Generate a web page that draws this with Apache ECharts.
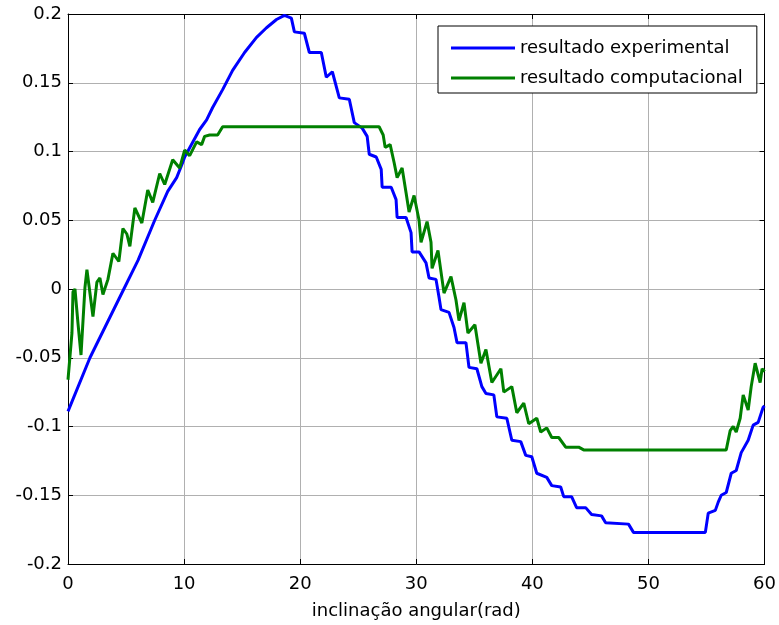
<!DOCTYPE html>
<html>
<head>
<meta charset="utf-8">
<script src="https://cdn.jsdelivr.net/npm/echarts@6/dist/echarts.min.js"></script>
<style>html,body{margin:0;padding:0;background:#fff;}#c{width:779px;height:625px;}</style>
</head>
<body>
<div id="c"></div>
<script>
const seriesNames = ['resultado experimental', 'resultado computacional'];
const xTicks = [0, 10, 20, 30, 40, 50, 60];
const yTickLabels = ['-0.2', '-0.15', '-0.1', '-0.05', '0', '0.05', '0.1', '0.15', '0.2'];

const expX = [0, 1.89, 4.81, 6.04, 7.47, 8.59, 9.36, 9.88, 10.05, 11.34, 11.94, 12.46, 13.32, 14.18, 15.21, 16.24, 17.10, 17.96, 18.64, 19.24,
  19.50, 20.36, 20.79, 21.82, 22.25, 22.77, 23.37, 24.23, 24.66, 25.34, 25.77, 25.95, 26.55, 26.98, 27.06, 27.84, 28.26, 28.35, 29.12, 29.55,
  29.64, 30.24, 30.84, 31.10, 31.70, 31.96, 32.13, 32.82, 33.25, 33.51, 34.28, 34.54, 35.22, 35.65, 36.00, 36.68, 36.94, 37.80, 38.23, 39.00,
  39.43, 39.95, 40.38, 41.24, 41.67, 42.44, 42.70, 43.38, 43.81, 44.59, 45.10, 45.96, 46.31, 48.28, 48.71, 54.90, 55.15, 55.76, 56.01, 56.27,
  56.70, 57.13, 57.56, 57.99, 58.59, 59.02, 59.45, 59.88, 60];
const expY = [-0.089, -0.050, 0, 0.021, 0.050, 0.071, 0.081, 0.092, 0.096, 0.116, 0.123, 0.132, 0.145, 0.159, 0.172, 0.183, 0.190, 0.196, 0.199, 0.197,
  0.187, 0.186, 0.172, 0.172, 0.154, 0.158, 0.139, 0.138, 0.121, 0.117, 0.111, 0.098, 0.096, 0.087, 0.074, 0.074, 0.065, 0.052, 0.052, 0.041,
  0.027, 0.027, 0.019, 0.008, 0.007, -0.006, -0.015, -0.017, -0.028, -0.039, -0.039, -0.057, -0.058, -0.071, -0.076, -0.077, -0.093, -0.094, -0.110, -0.111,
  -0.121, -0.122, -0.134, -0.137, -0.143, -0.144, -0.151, -0.151, -0.159, -0.159, -0.164, -0.165, -0.170, -0.171, -0.177, -0.177, -0.163, -0.161, -0.155, -0.150,
  -0.148, -0.134, -0.132, -0.119, -0.110, -0.099, -0.097, -0.086, -0.085];

const compX = [0, 0.34, 0.43, 0.60, 0.86, 1.12, 1.46, 1.63, 2.15, 2.49, 2.75, 3.01, 3.44, 3.87, 4.38, 4.73, 5.07, 5.33, 5.76, 6.36,
  6.87, 7.30, 7.90, 8.33, 9.02, 9.62, 10.05, 10.48, 11.08, 11.51, 11.77, 12.20, 12.89, 13.32, 13.49,
  26.80, 27.15, 27.32, 27.75, 28.09, 28.35, 28.78, 29.12, 29.38, 29.81, 30.24, 30.41, 30.93, 31.27, 31.36, 31.87, 32.39, 32.99, 33.42, 33.68,
  34.11, 34.45, 35.05, 35.57, 36.00, 36.51, 37.29, 37.54, 38.23, 38.66, 39.26, 39.69, 40.38, 40.72, 41.24, 41.67, 42.27, 42.87, 43.99, 44.42,
  56.70, 57.04, 57.30, 57.56, 57.90, 58.16, 58.59, 58.85, 59.19, 59.62, 59.79, 60];
const compY = [-0.066, -0.032, -0.002, 0.000, -0.025, -0.048, 0.001, 0.014, -0.020, 0.005, 0.008, -0.004, 0.007, 0.026, 0.020, 0.044, 0.040, 0.031, 0.059, 0.048,
  0.072, 0.063, 0.084, 0.076, 0.094, 0.088, 0.101, 0.097, 0.107, 0.105, 0.111, 0.112, 0.112, 0.118, 0.118,
  0.118, 0.112, 0.103, 0.105, 0.092, 0.081, 0.088, 0.070, 0.056, 0.068, 0.050, 0.034, 0.049, 0.034, 0.015, 0.028, -0.003, 0.009, -0.008, -0.023,
  -0.010, -0.032, -0.026, -0.054, -0.044, -0.068, -0.058, -0.075, -0.071, -0.090, -0.083, -0.098, -0.094, -0.104, -0.101, -0.108, -0.108, -0.115, -0.115, -0.117,
  -0.117, -0.103, -0.100, -0.104, -0.094, -0.077, -0.088, -0.071, -0.054, -0.068, -0.058, -0.060];

const FONT = 'DejaVu Sans';
const chart = echarts.init(document.getElementById('c'), null, { renderer: 'canvas' });

const boxAxisCommon = {
  axisLine: { show: true, onZero: false, lineStyle: { color: '#000', width: 1 } },
  axisTick: { show: true, inside: true, length: 5, lineStyle: { color: '#000', width: 1 } }
};

const option = {
  animation: false,
  backgroundColor: '#fff',
  grid: { left: 68, right: 13, top: 14, bottom: 61, containLabel: false },
  legend: {
    data: seriesNames.map(n => ({ name: n, icon: 'rect' })),
    orient: 'vertical',
    left: 438,
    top: 26,
    backgroundColor: '#fff',
    borderColor: '#000',
    borderWidth: 1,
    padding: [12, 14, 5, 13],
    itemWidth: 64,
    itemHeight: 3,
    itemGap: 10,
    textStyle: { fontFamily: FONT, fontSize: 18, color: '#000', lineHeight: 20 }
  },
  xAxis: [
    Object.assign({
      type: 'value', min: 0, max: 60, interval: 10, position: 'bottom',
      axisLabel: { fontFamily: FONT, fontSize: 18, color: '#000', margin: 11,
        formatter: v => { const i = xTicks.indexOf(Math.round(v)); return i >= 0 ? String(xTicks[i]) : ''; } },
      splitLine: { show: true, lineStyle: { color: '#b0b0b0', width: 1 } },
      name: 'inclinação angular(rad)', nameLocation: 'middle', nameGap: 38,
      nameTextStyle: { fontFamily: FONT, fontSize: 18, color: '#000' }
    }, boxAxisCommon),
    Object.assign({
      type: 'value', min: 0, max: 60, interval: 10, position: 'top',
      axisLabel: { show: false }, splitLine: { show: false }
    }, boxAxisCommon)
  ],
  yAxis: [
    Object.assign({
      type: 'value', min: -0.2, max: 0.2, interval: 0.05, position: 'left',
      axisLabel: { fontFamily: FONT, fontSize: 18, color: '#000', margin: 6,
        formatter: v => yTickLabels[Math.round((v + 0.2) / 0.05)] },
      splitLine: { show: true, lineStyle: { color: '#b0b0b0', width: 1 } }
    }, boxAxisCommon),
    Object.assign({
      type: 'value', min: -0.2, max: 0.2, interval: 0.05, position: 'right',
      axisLabel: { show: false }, splitLine: { show: false }
    }, boxAxisCommon)
  ],
  series: [
    {
      name: seriesNames[0], type: 'line', xAxisIndex: 0, yAxisIndex: 0,
      showSymbol: false, symbol: 'none',
      data: expX.map((x, i) => [x, expY[i]]),
      itemStyle: { color: '#0000ff' },
      lineStyle: { color: '#0000ff', width: 3 }
    },
    {
      name: seriesNames[1], type: 'line', xAxisIndex: 0, yAxisIndex: 0,
      showSymbol: false, symbol: 'none',
      data: compX.map((x, i) => [x, compY[i]]),
      itemStyle: { color: '#008000' },
      lineStyle: { color: '#008000', width: 3 }
    }
  ]
};
chart.setOption(option);
</script>
</body>
</html>
